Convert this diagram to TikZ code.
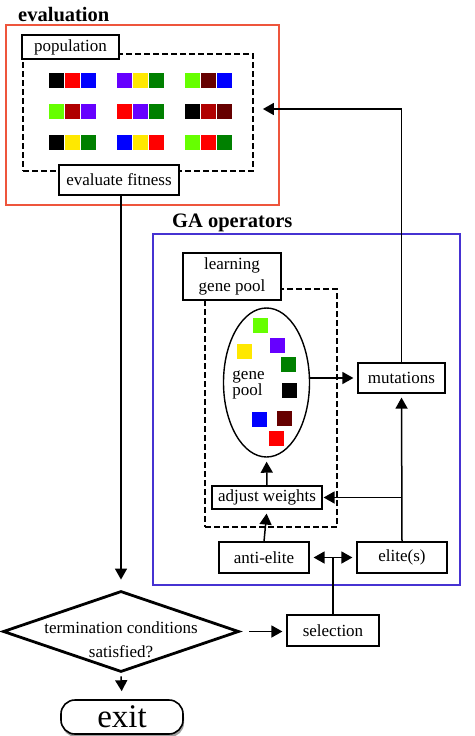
\documentclass[tikz,border=0pt]{standalone}
\usepackage{fontspec}
\setmainfont{Liberation Serif}
\usetikzlibrary{arrows.meta,shapes.geometric,calc,shadows}
\definecolor{redframe}{RGB}{238,85,60}
\definecolor{blueframe}{RGB}{70,50,210}
\definecolor{sqred}{RGB}{255,0,0}
\definecolor{sqblue}{RGB}{0,0,255}
\definecolor{sqpurple}{RGB}{102,0,255}
\definecolor{sqyellow}{RGB}{255,232,0}
\definecolor{sqgreen}{RGB}{0,128,0}
\definecolor{sqlime}{RGB}{102,255,0}
\definecolor{sqmaroon}{RGB}{102,0,0}
\definecolor{sqdark}{RGB}{176,0,0}
\begin{document}
\begin{tikzpicture}[x=1pt,y=-1pt,
  box/.style={draw, line width=1.2pt, fill=white, inner sep=0pt, font=\fontsize{17}{22}\selectfont, align=center},
  thickbox/.style={box, line width=2.8pt},
  dashbox/.style={draw, line width=1.8pt, dash pattern=on 6pt off 3pt, inner sep=0pt},
  frame/.style={draw, line width=1.3pt, inner sep=0pt},
  conn/.style={line width=1.5pt},
  arr/.style={conn, -{Triangle[length=11pt,width=12pt]}},
  dblarr/.style={conn, {Triangle[length=11pt,width=12pt]}-{Triangle[length=11pt,width=12pt]}},
  titletext/.style={font=\fontsize{20.5}{24}\selectfont\bfseries, inner sep=0pt, anchor=base west},
  plaintext/.style={font=\fontsize{17}{22}\selectfont, inner sep=0pt, align=center}
]
\useasboundingbox (0,0) rectangle (474,736);

% ---------- evaluation ----------
\node[titletext] (evaltitle) at (18,21.5) {evaluation};
\node[frame, draw=redframe, minimum width=273pt, minimum height=180pt] (redbox) at (142.5,115) {};
\node[dashbox, minimum width=230pt, minimum height=117pt] (popbox) at (138,112.5) {};
\foreach \gx/\ry/\a/\b/\c in {
  49.3/73.3/black/sqred/sqblue, 117.3/73.3/sqpurple/sqyellow/sqgreen, 185/73.3/sqlime/sqmaroon/sqblue,
  49.3/104/sqlime/sqdark/sqpurple, 117.3/104/sqred/sqpurple/sqgreen, 185/104/black/sqdark/sqmaroon,
  49.3/134.5/black/sqyellow/sqgreen, 117.3/134.5/sqblue/sqyellow/sqred, 185/134.5/sqlime/sqred/sqgreen}{
  \fill[\a] (\gx,\ry) rectangle +(14.7,15);
  \fill[\b] (\gx+16,\ry) rectangle +(14.7,15);
  \fill[\c] (\gx+32,\ry) rectangle +(14.7,15);
}
\node[thickbox, minimum width=97pt, minimum height=24pt] (pop) at (70.5,47) {population};
\node[box, minimum width=120pt, minimum height=30pt] (fit) at (119,180) {evaluate fitness};

% ---------- GA operators ----------
\node[titletext] (gatitle) at (172,227) {GA operators};
\node[frame, draw=blueframe, minimum width=307pt, minimum height=351pt] (bluebox) at (306.5,409.5) {};
\node[dashbox, minimum width=132pt, minimum height=238pt] (lgpbox) at (271,408) {};
\node[thickbox, minimum width=98pt, minimum height=47pt] (lgp) at (232,276.5) {learning\\gene pool};
\node[draw, ellipse, line width=1.4pt, minimum width=86pt, minimum height=149pt, inner sep=0pt] (ell) at (266.5,382.5) {};
\foreach \cx/\cy/\col in {260/325.5/sqlime, 244.5/351.5/sqyellow, 277.5/345.5/sqpurple, 288.5/364/sqgreen,
  289/390.5/black, 259/419.5/sqblue, 284.5/418/sqmaroon, 276.5/438/sqred}{
  \fill[\col] (\cx-7.5,\cy-7.5) rectangle +(15,15);
}
\node[font=\fontsize{17}{16}\selectfont, inner sep=0pt, align=left] (gptext) at (248.5,385) {gene\\pool};
\node[box, minimum width=87pt, minimum height=30pt] (mut) at (401.5,378) {mutations};
\node[box, minimum width=110pt, minimum height=23pt] (adj) at (267,497.5) {adjust weights};
\node[box, minimum width=90pt, minimum height=31pt] (anti) at (264,557.5) {anti-elite};
\node[box, minimum width=90pt, minimum height=31pt] (eli) at (402,557.5) {elite(s)};

% ---------- bottom ----------
\node[diamond, draw, line width=2.8pt, minimum width=236pt, minimum height=81pt, inner sep=0pt] (diam) at (121,631.5) {};
\node[font=\fontsize{17}{24}\selectfont, inner sep=0pt, align=center] (diamtext) at (121,640) {termination conditions\\satisfied?};
\node[box, minimum width=92pt, minimum height=31pt] (sel) at (333,630.5) {selection};
\node[draw, line width=1.6pt, fill=white, rounded corners=14pt, minimum width=122pt, minimum height=34pt, inner sep=0pt,
  font=\fontsize{33}{36}\selectfont,
  drop shadow={shadow xshift=1pt, shadow yshift=-3pt, fill=gray!75, opacity=1}] (exit) at (122,717) {exit};

% ---------- connectors ----------
\draw[arr, shorten >=10pt] (diam.north |- fit.south) -- (diam.north);
\draw[arr, shorten <=9pt, shorten >=4pt] (diam.east) -- (diam.east -| sel.west);
\draw[arr, shorten <=3pt, shorten >=8pt] (diam.south) -- (exit.north);
\draw[conn] (sel.north) -- (sel.north |- anti.east);
\draw[dblarr, shorten <=4pt, shorten >=4pt] (anti.east) -- (eli.west);
\draw[arr, shorten >=4pt] (anti.north) -- (adj.south);
\draw[arr, shorten >=4pt] (adj.north) -- (ell.south);
\draw[arr, shorten >=4pt] (eli.north) -- (mut.south);
\draw[arr, shorten >=1pt] (eli.north |- adj.east) -- (adj.east);
\draw[arr, shorten >=4pt] (mut.west -| ell.east) -- (mut.west);
\draw[arr, shorten >=9pt] (mut.north) |- ([yshift=3.5pt]popbox.east);
\end{tikzpicture}
\end{document}
